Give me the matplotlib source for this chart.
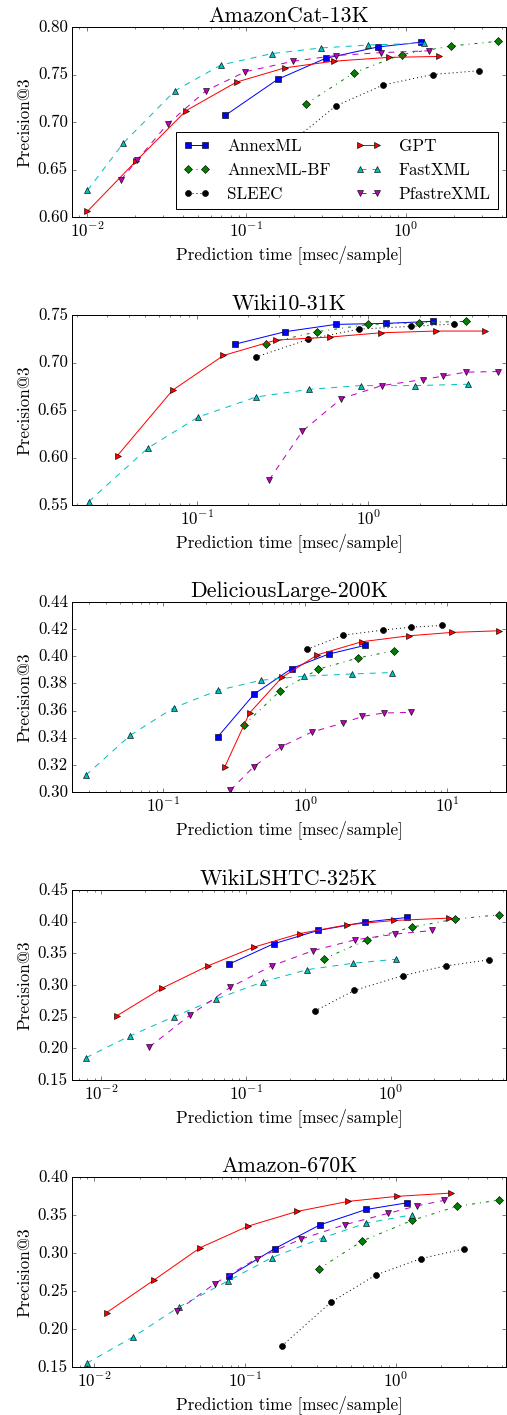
import matplotlib
matplotlib.use('Agg')
import matplotlib.pyplot as plt
from matplotlib.ticker import FormatStrFormatter, MultipleLocator

plt.style.use('classic')
plt.rcParams['font.family'] = 'serif'
plt.rcParams['font.serif'] = ['cmr10']
plt.rcParams['mathtext.fontset'] = 'cm'
plt.rcParams['axes.formatter.use_mathtext'] = True
plt.rcParams['figure.facecolor'] = 'white'

methods = ['AnnexML', 'AnnexML-BF', 'SLEEC', 'GPT', 'FastXML', 'PfastreXML']
styles = {
    'AnnexML': dict(color='b', ls='-', marker='s'),
    'AnnexML-BF': dict(color='g', ls='-.', marker='D'),
    'SLEEC': dict(color='k', ls=':', marker='o'),
    'GPT': dict(color='r', ls='-', marker='>'),
    'FastXML': dict(color='c', ls='--', marker='^'),
    'PfastreXML': dict(color='m', ls='--', marker='v'),
}

# AmazonCat-13K
amazoncat_time = {
    'AnnexML': [0.074, 0.158, 0.315, 0.671, 1.25],
    'AnnexML-BF': [0.237, 0.477, 0.944, 1.94, 3.81],
    'SLEEC': [0.183, 0.366, 0.724, 1.48, 2.90],
    'GPT': [0.0101, 0.0204, 0.042, 0.087, 0.175, 0.354, 0.782, 1.63],
    'FastXML': [0.0101, 0.017, 0.0358, 0.0695, 0.145, 0.296, 0.583, 1.30],
    'PfastreXML': [0.0164, 0.0207, 0.0322, 0.056, 0.099, 0.198, 0.366, 0.70, 1.41],
}
amazoncat_p3 = {
    'AnnexML': [0.707, 0.745, 0.767, 0.779, 0.784],
    'AnnexML-BF': [0.719, 0.752, 0.771, 0.780, 0.785],
    'SLEEC': [0.676, 0.717, 0.739, 0.750, 0.754],
    'GPT': [0.606, 0.659, 0.712, 0.742, 0.757, 0.764, 0.768, 0.769],
    'FastXML': [0.628, 0.678, 0.733, 0.760, 0.772, 0.778, 0.781, 0.783],
    'PfastreXML': [0.639, 0.660, 0.698, 0.733, 0.753, 0.764, 0.770, 0.773, 0.775],
}

# Wiki10-31K
wiki10_time = {
    'AnnexML': [0.168, 0.327, 0.646, 1.27, 2.37],
    'AnnexML-BF': [0.252, 0.502, 0.996, 1.97, 3.71],
    'SLEEC': [0.22, 0.446, 0.883, 1.78, 3.16],
    'GPT': [0.0345, 0.0722, 0.143, 0.29, 0.598, 1.19, 2.47, 4.78],
    'FastXML': [0.0234, 0.0521, 0.102, 0.222, 0.453, 0.902, 1.88, 3.79],
    'PfastreXML': [0.264, 0.413, 0.697, 1.2, 2.07, 2.71, 3.69, 5.67],
}
wiki10_p3 = {
    'AnnexML': [0.7194, 0.7324, 0.7401, 0.7412, 0.7433],
    'AnnexML-BF': [0.720, 0.7324, 0.740, 0.742, 0.7433],
    'SLEEC': [0.7056, 0.7243, 0.7352, 0.738, 0.7405],
    'GPT': [0.6021, 0.6708, 0.7074, 0.7236, 0.7268, 0.7313, 0.7331, 0.7331],
    'FastXML': [0.5535, 0.6102, 0.6426, 0.6637, 0.6718, 0.6757, 0.6757, 0.6771],
    'PfastreXML': [0.5764, 0.6278, 0.662, 0.6757, 0.682, 0.6856, 0.6898, 0.6905],
}

# DeliciousLarge-200K
delicious_time = {
    'AnnexML': [0.243, 0.438, 0.804, 1.46, 2.63],
    'AnnexML-BF': [0.37, 0.665, 1.24, 2.36, 4.2],
    'SLEEC': [1.03, 1.86, 3.52, 5.59, 9.22],
    'GPT': [0.271, 0.406, 0.687, 1.22, 2.5, 5.35, 10.8, 23.1],
    'FastXML': [0.0286, 0.059, 0.119, 0.244, 0.487, 0.976, 2.15, 4.05],
    'PfastreXML': [0.297, 0.433, 0.676, 1.11, 1.84, 2.53, 3.56, 5.59],
}
delicious_p3 = {
    'AnnexML': [0.3407, 0.3722, 0.391, 0.4016, 0.408],
    'AnnexML-BF': [0.3493, 0.3744, 0.3905, 0.3988, 0.404],
    'SLEEC': [0.4052, 0.4156, 0.4193, 0.4215, 0.4227],
    'GPT': [0.3182, 0.3582, 0.3845, 0.4011, 0.4107, 0.4151, 0.4176, 0.4188],
    'FastXML': [0.3123, 0.3419, 0.3621, 0.3749, 0.3823, 0.3853, 0.387, 0.388],
    'PfastreXML': [0.3012, 0.3185, 0.3333, 0.3441, 0.3508, 0.3557, 0.3582, 0.3587],
}

# WikiLSHTC-325K
wikilshtc_time = {
    'AnnexML': [0.0767, 0.155, 0.314, 0.663, 1.30],
    'AnnexML-BF': [0.344, 0.69, 1.39, 2.78, 5.58],
    'SLEEC': [0.298, 0.561, 1.21, 2.39, 4.74],
    'GPT': [0.0128, 0.0264, 0.055, 0.113, 0.236, 0.502, 1.05, 2.51],
    'FastXML': [0.00784, 0.0158, 0.0316, 0.0621, 0.13, 0.265, 0.547, 1.09],
    'PfastreXML': [0.0215, 0.0407, 0.0777, 0.15, 0.291, 0.565, 1.07, 1.94],
}
wikilshtc_p3 = {
    'AnnexML': [0.3333, 0.365, 0.3861, 0.3993, 0.4067],
    'AnnexML-BF': [0.3412, 0.3718, 0.3914, 0.404, 0.4109],
    'SLEEC': [0.2588, 0.2915, 0.3148, 0.3301, 0.3396],
    'GPT': [0.2514, 0.2952, 0.3306, 0.3597, 0.3813, 0.3951, 0.4019, 0.4056],
    'FastXML': [0.1853, 0.2197, 0.2498, 0.2778, 0.3047, 0.3243, 0.3343, 0.3407],
    'PfastreXML': [0.2023, 0.2519, 0.2963, 0.3301, 0.3544, 0.3713, 0.3803, 0.3861],
}

# Amazon-670K
amazon_time = {
    'AnnexML': [0.0782, 0.157, 0.314, 0.634, 1.19],
    'AnnexML-BF': [0.307, 0.598, 1.27, 2.53, 4.78],
    'SLEEC': [0.175, 0.371, 0.733, 1.46, 2.82],
    'GPT': [0.0121, 0.0247, 0.0505, 0.1045, 0.221, 0.481, 1.01, 2.33],
    'FastXML': [0.0089, 0.0181, 0.0366, 0.0775, 0.15, 0.326, 0.634, 1.28],
    'PfastreXML': [0.0354, 0.0628, 0.119, 0.233, 0.462, 0.881, 1.38, 2.08],
}
amazon_p3 = {
    'AnnexML': [0.2693, 0.3058, 0.3371, 0.3573, 0.3661],
    'AnnexML-BF': [0.279, 0.3159, 0.3428, 0.3613, 0.3696],
    'SLEEC': [0.1777, 0.2354, 0.271, 0.2926, 0.3054],
    'GPT': [0.2217, 0.264, 0.3071, 0.3353, 0.3547, 0.3679, 0.3745, 0.3789],
    'FastXML': [0.1548, 0.1896, 0.2292, 0.2636, 0.2939, 0.3199, 0.3393, 0.3503],
    'PfastreXML': [0.2239, 0.2596, 0.2926, 0.3181, 0.3375, 0.352, 0.3621, 0.3692],
}

datasets = ['AmazonCat-13K', 'Wiki10-31K', 'DeliciousLarge-200K', 'WikiLSHTC-325K', 'Amazon-670K']
times = [amazoncat_time, wiki10_time, delicious_time, wikilshtc_time, amazon_time]
precs = [amazoncat_p3, wiki10_p3, delicious_p3, wikilshtc_p3, amazon_p3]
ylims = [(0.60, 0.80), (0.55, 0.75), (0.30, 0.44), (0.15, 0.45), (0.15, 0.40)]
ysteps = [0.05, 0.05, 0.02, 0.05, 0.05]

W, H = 507, 1415
fig = plt.figure(figsize=(W / 72.0, H / 72.0), dpi=72)

tops = [27, 315, 602, 890, 1177]
ax_h = 190
for i, name in enumerate(datasets):
    ax = fig.add_axes([72.0 / W, 1 - (tops[i] + ax_h) / H, 434.0 / W, ax_h / H])
    for m in methods:
        st = styles[m]
        ax.plot(times[i][m], precs[i][m], color=st['color'], linestyle=st['ls'],
                marker=st['marker'], markersize=6, markeredgecolor='k',
                markeredgewidth=0.6, linewidth=1.0, label=m)
    ax.set_xscale('log')
    allt = [t for m in methods for t in times[i][m]]
    ax.set_xlim(min(allt) * 0.8, max(allt) * 1.12)
    ax.set_ylim(*ylims[i])
    ax.yaxis.set_major_locator(MultipleLocator(ysteps[i]))
    ax.yaxis.set_major_formatter(FormatStrFormatter('%.2f'))
    ax.tick_params(labelsize=17)
    ax.set_title(name, fontsize=22)
    ax.set_xlabel('Prediction time [msec/sample]', fontsize=17)
    ax.set_ylabel('Precision@3', fontsize=17)
    if i == 0:
        ax.legend(loc='lower right', ncol=2, numpoints=2, fontsize=17,
                  borderaxespad=0.5, handlelength=1.6, handletextpad=1.0,
                  columnspacing=1.4)

fig.savefig('out.png', dpi=72)
